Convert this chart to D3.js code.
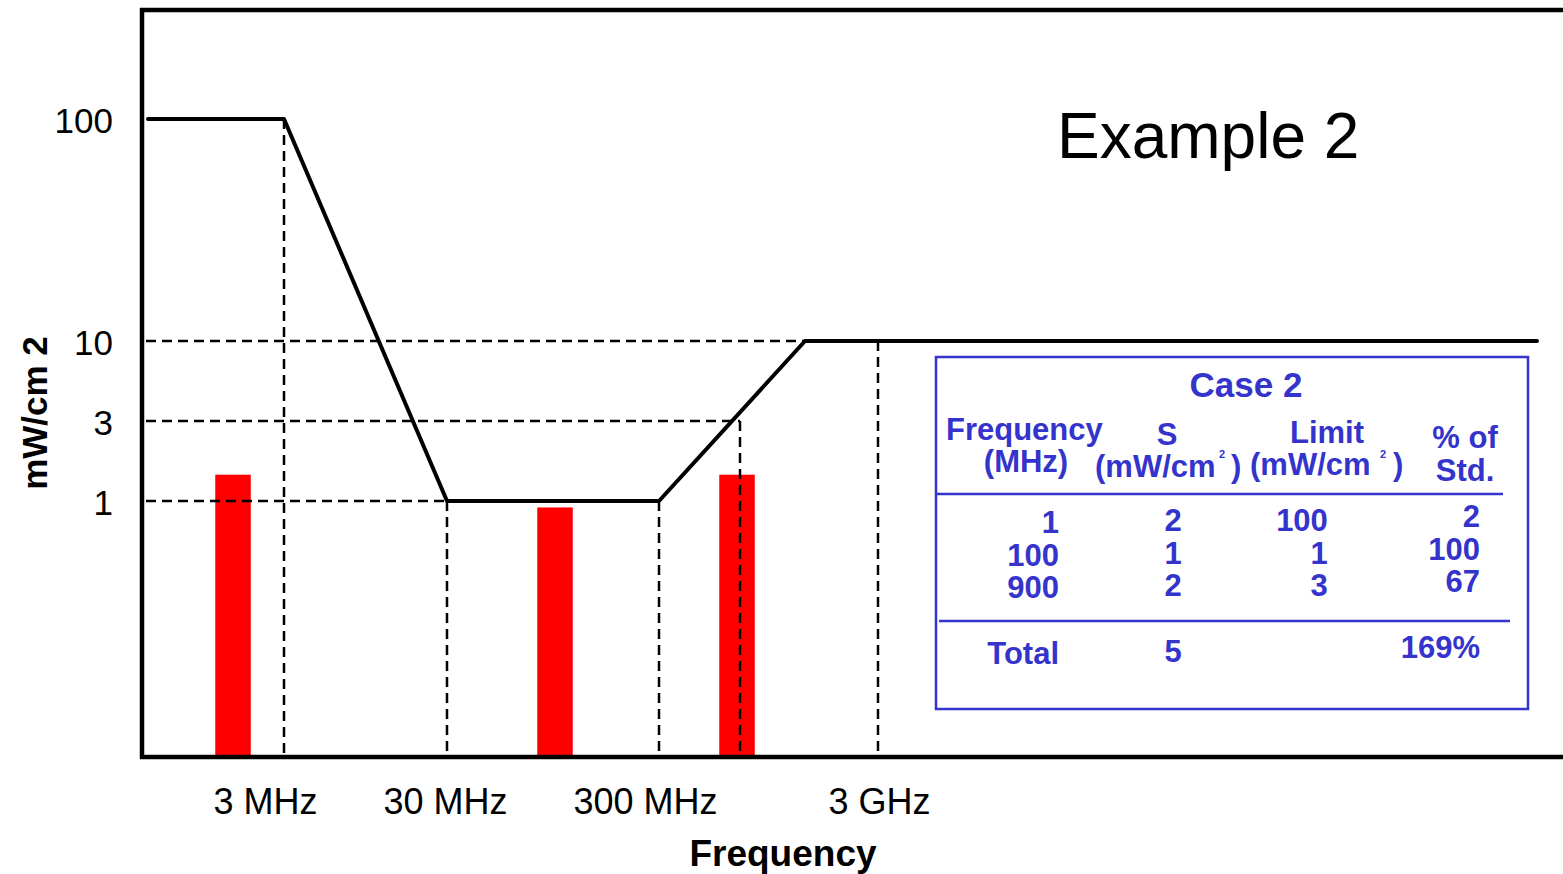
<!DOCTYPE html>
<html>
<head>
<meta charset="utf-8">
<script src="https://cdn.jsdelivr.net/npm/d3@7"></script>
<style>
  body { margin: 0; background: #fff; }
  text { font-family: "Liberation Sans", Arial, sans-serif; }
</style>
</head>
<body>
<div id="chart"></div>
<script>
// Data
const freqTicks = [3, 30, 300, 3000];
const freqTickLabels = ["3 MHz", "30 MHz", "300 MHz", "3 GHz"];
const levelTicks = [1, 3, 10, 100];

// limit curve (MHz, mW/cm2)
const limitFreq = [0.3, 3, 30, 300, 1500, 100000];
const limitVal = [100, 100, 1, 1, 10, 10];

// source bars (MHz, drawn height in mW/cm2 on the schematic axis)
const sourceFreq = [1, 100, 900];
const sourceBar = [1.45, 0.95, 1.45];

// table
const tabFreq = ["1", "100", "900"];
const tabS = ["2", "1", "2"];
const tabLimit = ["100", "1", "3"];
const tabPct = ["2", "100", "67"];
const totalS = "5";
const totalPct = "169%";

const W = 1563, H = 874;
const blue = "#3434cc";

const svg = d3.select("#chart")
  .append("svg")
    .attr("width", W)
    .attr("height", H);

// schematic log scales (axis is not uniform in the original)
const x = d3.scaleLog()
  .domain([0.3, 1, 3, 30, 100, 300, 900, 1500, 3000, 100000])
  .range([148, 233, 284, 447, 555, 659, 740, 805, 878, 1537]);

const y = d3.scaleLog()
  .domain([0.1, 1, 3, 10, 100])
  .range([757, 501, 421, 341, 119]);

const frameLeft = 142, frameTop = 10, frameBottom = 757;

// bars
const barW = 37;
svg.selectAll("rect.bar")
  .data(sourceFreq)
  .enter()
  .append("rect")
    .attr("class", "bar")
    .attr("x", (d, i) => x(d) - barW / 2 - (i === 2 ? 3 : 0))
    .attr("y", (d, i) => y(sourceBar[i]))
    .attr("width", barW)
    .attr("height", (d, i) => frameBottom - y(sourceBar[i]))
    .attr("fill", "#ff0000")
    .attr("stroke", "#fff")
    .attr("stroke-width", 1.5);

// dashed guides
const dash = "10,6";
const guides = [
  // horizontal: level, until freq
  {h: true, v: 10, f: 1500},
  {h: true, v: 3, f: 900},
  {h: true, v: 1, f: 30},
  // vertical: freq, from level
  {h: false, f: 3, v: 100},
  {h: false, f: 30, v: 1},
  {h: false, f: 300, v: 1},
  {h: false, f: 900, v: 3},
  {h: false, f: 3000, v: 10}
];
svg.selectAll("line.guide")
  .data(guides)
  .enter()
  .append("line")
    .attr("x1", d => d.h ? frameLeft + 4 : x(d.f))
    .attr("x2", d => x(d.f))
    .attr("y1", d => y(d.v))
    .attr("y2", d => d.h ? y(d.v) : frameBottom)
    .attr("stroke", "#000")
    .attr("stroke-width", 2.5)
    .attr("stroke-dasharray", dash);

// limit line
const line = d3.line()
  .x(d => x(d[0]))
  .y(d => y(d[1]));
svg.append("path")
  .datum(limitFreq.map((f, i) => [f, limitVal[i]]))
  .attr("d", line)
  .attr("fill", "none")
  .attr("stroke", "#000")
  .attr("stroke-width", 4)
  .attr("stroke-linejoin", "round")
  .attr("stroke-linecap", "round");

// frame
svg.append("path")
  .attr("d", `M${W},${frameTop} H${frameLeft} V${frameBottom} H${W}`)
  .attr("fill", "none")
  .attr("stroke", "#000")
  .attr("stroke-width", 4.5);

// y axis labels
const yAxis = svg.append("g")
  .attr("transform", `translate(${frameLeft},0)`)
  .call(d3.axisLeft(y).tickValues(levelTicks).tickSize(0).tickPadding(29).tickFormat(d3.format("d")));
yAxis.select(".domain").remove();
yAxis.selectAll("text")
  .attr("font-size", 35)
  .attr("font-family", "Liberation Sans, Arial, sans-serif")
  .attr("fill", "#000")
  .attr("dy", "0.38em");

// x axis labels
const xNudge = [-19, -2, -14, 1];
const xAxis = svg.append("g")
  .attr("transform", `translate(0,${frameBottom})`)
  .call(d3.axisBottom(x).tickValues(freqTicks).tickSize(0).tickPadding(31)
    .tickFormat((d, i) => freqTickLabels[i]));
xAxis.select(".domain").remove();
xAxis.selectAll("text")
  .attr("font-size", 36)
  .attr("font-family", "Liberation Sans, Arial, sans-serif")
  .attr("fill", "#000")
  .attr("dx", (d, i) => xNudge[i]);

// axis titles
svg.append("text")
  .attr("x", 783).attr("y", 866)
  .attr("text-anchor", "middle")
  .attr("font-size", 37).attr("font-weight", "bold")
  .text("Frequency");

svg.append("text")
  .attr("transform", "translate(47,413) rotate(-90)")
  .attr("text-anchor", "middle")
  .attr("font-size", 35).attr("font-weight", "bold")
  .text("mW/cm 2");

// title
svg.append("text")
  .attr("x", 1057).attr("y", 158)
  .attr("font-size", 64)
  .text("Example 2");

// table
const tab = svg.append("g").attr("fill", blue).attr("font-weight", "bold").attr("font-size", 31);
tab.append("rect")
  .attr("x", 936).attr("y", 357)
  .attr("width", 592).attr("height", 352)
  .attr("fill", "none").attr("stroke", blue).attr("stroke-width", 2.5);

function t(txt, px, py, anchor, size) {
  return tab.append("text")
    .attr("x", px).attr("y", py)
    .attr("text-anchor", anchor || "start")
    .attr("font-size", size || 31)
    .text(txt);
}

t("Case 2", 1246, 397, "middle", 35);
t("Frequency", 946, 440);
t("(MHz)", 1026, 472, "middle");
t("S", 1167, 445, "middle");
t("(mW/cm", 1095, 477);
t("2", 1222, 458, "middle", 11);
t(")", 1231, 477);
t("Limit", 1327, 443, "middle");
t("(mW/cm", 1250, 475);
t("2", 1383, 458, "middle", 11);
t(")", 1393, 475);
t("% of", 1465, 448, "middle");
t("Std.", 1465, 481, "middle");

tab.append("line")
  .attr("x1", 936).attr("x2", 1503).attr("y1", 494).attr("y2", 494)
  .attr("stroke", blue).attr("stroke-width", 2.5);

const rowY = [533, 566, 598];
tabFreq.forEach((d, i) => t(d, 1059, rowY[i], "end"));
tabS.forEach((d, i) => t(d, 1173, rowY[i] - 2, "middle"));
tabLimit.forEach((d, i) => t(d, i === 0 ? 1302 : 1319, rowY[i] - 2, "middle"));
tabPct.forEach((d, i) => t(d, 1480, rowY[i] - 6, "end"));

tab.append("line")
  .attr("x1", 939).attr("x2", 1510).attr("y1", 621).attr("y2", 621)
  .attr("stroke", blue).attr("stroke-width", 2.5);

t("Total", 1059, 664, "end");
t(totalS, 1173, 662, "middle");
t(totalPct, 1480, 658, "end");
</script>
</body>
</html>
